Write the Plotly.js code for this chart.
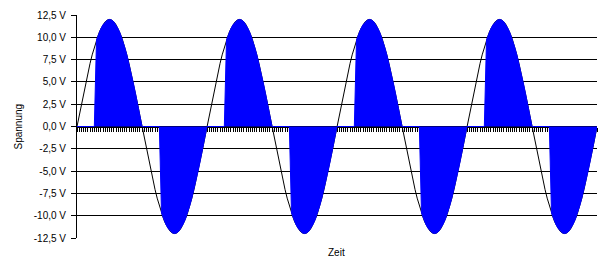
<!DOCTYPE html>
<html>
<head>
<meta charset="utf-8">
<script src="https://cdn.plot.ly/plotly-3.0.1.min.js"></script>
<style>html,body{margin:0;padding:0;background:#fff;}#chart{width:611px;height:265px;}</style>
</head>
<body>
<div id="chart"></div>
<script>
// Source voltage (sine), 60 samples per period, 4 periods + closing sample
const spannung = [
0,1.25,2.49,3.71,4.88,6,7.05,8.03,8.92,9.71,10.39,10.96,11.41,11.74,11.93,12,11.93,11.74,11.41,10.96,10.39,9.71,8.92,8.03,7.05,6,4.88,3.71,2.49,1.25,0,-1.25,-2.49,-3.71,-4.88,-6,-7.05,-8.03,-8.92,-9.71,-10.39,-10.96,-11.41,-11.74,-11.93,-12,-11.93,-11.74,-11.41,-10.96,-10.39,-9.71,-8.92,-8.03,-7.05,-6,-4.88,-3.71,-2.49,-1.25,
0,1.25,2.49,3.71,4.88,6,7.05,8.03,8.92,9.71,10.39,10.96,11.41,11.74,11.93,12,11.93,11.74,11.41,10.96,10.39,9.71,8.92,8.03,7.05,6,4.88,3.71,2.49,1.25,0,-1.25,-2.49,-3.71,-4.88,-6,-7.05,-8.03,-8.92,-9.71,-10.39,-10.96,-11.41,-11.74,-11.93,-12,-11.93,-11.74,-11.41,-10.96,-10.39,-9.71,-8.92,-8.03,-7.05,-6,-4.88,-3.71,-2.49,-1.25,
0,1.25,2.49,3.71,4.88,6,7.05,8.03,8.92,9.71,10.39,10.96,11.41,11.74,11.93,12,11.93,11.74,11.41,10.96,10.39,9.71,8.92,8.03,7.05,6,4.88,3.71,2.49,1.25,0,-1.25,-2.49,-3.71,-4.88,-6,-7.05,-8.03,-8.92,-9.71,-10.39,-10.96,-11.41,-11.74,-11.93,-12,-11.93,-11.74,-11.41,-10.96,-10.39,-9.71,-8.92,-8.03,-7.05,-6,-4.88,-3.71,-2.49,-1.25,
0,1.25,2.49,3.71,4.88,6,7.05,8.03,8.92,9.71,10.39,10.96,11.41,11.74,11.93,12,11.93,11.74,11.41,10.96,10.39,9.71,8.92,8.03,7.05,6,4.88,3.71,2.49,1.25,0,-1.25,-2.49,-3.71,-4.88,-6,-7.05,-8.03,-8.92,-9.71,-10.39,-10.96,-11.41,-11.74,-11.93,-12,-11.93,-11.74,-11.41,-10.96,-10.39,-9.71,-8.92,-8.03,-7.05,-6,-4.88,-3.71,-2.49,-1.25,
0];

// Phase-controlled output voltage (filled area)
const gesteuert = [
0,0,0,0,0,0,0,0,0,9.71,10.39,10.96,11.41,11.74,11.93,12,11.93,11.74,11.41,10.96,10.39,9.71,8.92,8.03,7.05,6,4.88,3.71,2.49,1.25,0,0,0,0,0,0,0,0,0,-9.71,-10.39,-10.96,-11.41,-11.74,-11.93,-12,-11.93,-11.74,-11.41,-10.96,-10.39,-9.71,-8.92,-8.03,-7.05,-6,-4.88,-3.71,-2.49,-1.25,
0,0,0,0,0,0,0,0,0,9.71,10.39,10.96,11.41,11.74,11.93,12,11.93,11.74,11.41,10.96,10.39,9.71,8.92,8.03,7.05,6,4.88,3.71,2.49,1.25,0,0,0,0,0,0,0,0,0,-9.71,-10.39,-10.96,-11.41,-11.74,-11.93,-12,-11.93,-11.74,-11.41,-10.96,-10.39,-9.71,-8.92,-8.03,-7.05,-6,-4.88,-3.71,-2.49,-1.25,
0,0,0,0,0,0,0,0,0,9.71,10.39,10.96,11.41,11.74,11.93,12,11.93,11.74,11.41,10.96,10.39,9.71,8.92,8.03,7.05,6,4.88,3.71,2.49,1.25,0,0,0,0,0,0,0,0,0,-9.71,-10.39,-10.96,-11.41,-11.74,-11.93,-12,-11.93,-11.74,-11.41,-10.96,-10.39,-9.71,-8.92,-8.03,-7.05,-6,-4.88,-3.71,-2.49,-1.25,
0,0,0,0,0,0,0,0,0,9.71,10.39,10.96,11.41,11.74,11.93,12,11.93,11.74,11.41,10.96,10.39,9.71,8.92,8.03,7.05,6,4.88,3.71,2.49,1.25,0,0,0,0,0,0,0,0,0,-9.71,-10.39,-10.96,-11.41,-11.74,-11.93,-12,-11.93,-11.74,-11.41,-10.96,-10.39,-9.71,-8.92,-8.03,-7.05,-6,-4.88,-3.71,-2.49,-1.25,
0];

const yTickVals = [12.5, 10, 7.5, 5, 2.5, 0, -2.5, -5, -7.5, -10, -12.5];
const yTickText = ["12,5 V", "10,0 V", "7,5 V", "5,0 V", "2,5 V", "0,0 V", "-2,5 V", "-5,0 V", "-7,5 V", "-10,0 V", "-12,5 V"];
const xTitle = "Zeit";
const yTitle = "Spannung";

const font = {family: "Liberation Sans, Arial, sans-serif", size: 10, color: "#000"};

const traces = [
  {y: spannung, type: "scatter", mode: "lines", line: {color: "#000", width: 1}, hoverinfo: "skip"},
  {y: gesteuert, type: "scatter", mode: "lines", fill: "tozeroy", fillcolor: "#0000ff",
   line: {color: "#0000ff", width: 1}, hoverinfo: "skip"}
];

const layout = {
  width: 611, height: 265,
  margin: {l: 77, r: 14, t: 15, b: 27},
  paper_bgcolor: "#fff", plot_bgcolor: "#fff",
  showlegend: false,
  font: font,
  xaxis: {
    range: [0, 240], anchor: "free", position: 0.5,
    showline: true, linecolor: "#000", linewidth: 1,
    ticks: "outside", ticklen: 4, tickwidth: 1, tickcolor: "#000",
    tick0: 0, dtick: 1, showticklabels: false,
    showgrid: false, zeroline: false, layer: "below traces"
  },
  yaxis: {
    range: [-12.5, 12.5],
    tickvals: yTickVals, ticktext: yTickText,
    ticks: "outside", ticklen: 5, tickcolor: "#000",
    ticklabelstandoff: 3,
    showline: true, linecolor: "#000", linewidth: 1,
    showgrid: true, gridcolor: "#000", gridwidth: 1,
    zeroline: false, tickfont: font
  },
  annotations: [
    {text: xTitle, xref: "paper", yref: "paper", x: 0.499, y: 0, yshift: -14, showarrow: false,
     font: font, xanchor: "center", yanchor: "middle"},
    {text: yTitle, xref: "paper", yref: "paper", x: 0, xshift: -59, y: 0.5, showarrow: false,
     textangle: -90, font: font, xanchor: "center", yanchor: "middle"}
  ]
};

Plotly.newPlot("chart", traces, layout, {staticPlot: true, displayModeBar: false});
</script>
</body>
</html>
